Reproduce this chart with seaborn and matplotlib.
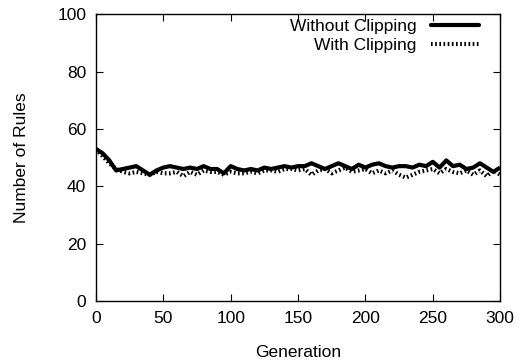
import matplotlib
matplotlib.use("Agg")
import matplotlib.pyplot as plt
import seaborn as sns
import pandas as pd
from matplotlib.lines import Line2D

generations = list(range(0, 301, 5))
without_clipping = [53, 51.5, 49, 45.5, 46, 46.5, 47, 45.5, 44, 45.5, 46.5, 47, 46.5, 46, 46.5, 46,
                    47, 46, 46, 44.5, 47, 46, 45.5, 46, 45.5, 46.5, 46, 46.5, 47, 46.5, 47, 47,
                    48, 47, 46, 47, 48, 47, 46, 47.5, 46.5, 47.5, 48, 47, 46.5, 47, 47, 46.5,
                    47.5, 47, 48.5, 46.5, 49, 47, 47.5, 46, 46.5, 48, 46.5, 45, 46.5]
with_clipping = [53, 50.5, 48, 46, 45, 44.5, 45, 44.5, 44, 45, 44.5, 44.5, 45, 43.5, 45, 44,
                 45.5, 45, 45, 44, 45, 44.5, 44.5, 45, 44.5, 45.5, 45.5, 45, 46, 46, 45.5, 46,
                 44, 45.5, 46, 44.5, 45.5, 46.5, 45, 45.5, 46, 44.5, 45.5, 44.5, 45.5, 44, 43,
                 44, 45, 45.5, 46, 44.5, 46, 45, 44.5, 45.5, 44, 45.5, 43.5, 45.5, 44]
series_names = ["Without Clipping", "With Clipping"]

df = pd.DataFrame({
    "Generation": generations * 2,
    "Rules": without_clipping + with_clipping,
    "Series": [series_names[0]] * len(generations) + [series_names[1]] * len(generations),
})

sns.set_style("ticks")
plt.rcParams['font.family'] = ['Liberation Sans', 'DejaVu Sans']
plt.rcParams['text.color'] = 'black'
plt.rcParams['axes.labelcolor'] = 'black'

fs = 12.5
fig = plt.figure(figsize=(5.21, 3.63), dpi=100)
ax = fig.add_axes([0.184, 0.171, 0.776, 0.790])

sns.lineplot(data=df, x="Generation", y="Rules", hue="Series", style="Series",
             palette=["black", "black"], dashes=[(None, None), (0.4, 0.6)],
             linewidth=3, ax=ax, legend=False)
for line, ls in zip(ax.lines, ["-", (0, (0.4, 0.6))]):
    line.set_linestyle(ls)
    line.set_solid_capstyle("butt")

ax.set_xlim(0, 300)
ax.set_ylim(0, 100)
ax.set_xticks(range(0, 301, 50))
ax.set_yticks(range(0, 101, 20))
ax.tick_params(direction="in", length=5, width=0.8, top=True, right=True,
               labelsize=fs, pad=7, colors="black")
for s in ax.spines.values():
    s.set_linewidth(1.0)
    s.set_color("black")
ax.set_xlabel("Generation", fontsize=fs, labelpad=14)
ax.set_ylabel("Number of Rules", fontsize=fs, labelpad=20)

handles = [Line2D([], [], color="black", lw=3, ls="-"),
           Line2D([], [], color="black", lw=3, ls=(0, (0.4, 0.6)))]
leg = ax.legend(handles, series_names, loc="upper right", bbox_to_anchor=(0.948, 0.985),
                frameon=False, markerfirst=False, fontsize=fs, handlelength=2.8,
                borderaxespad=0, labelspacing=0.25, handletextpad=0.8, borderpad=0)
for t in leg.get_texts():
    t.set_color("black")

fig.savefig("out.png", dpi=100)
